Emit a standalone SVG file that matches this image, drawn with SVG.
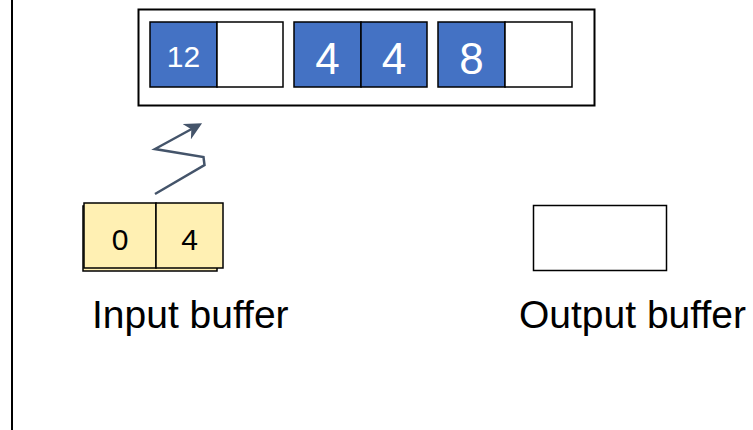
<svg xmlns="http://www.w3.org/2000/svg" width="753" height="430" viewBox="0 0 753 430">
  <defs>
    <style>
      .frame { fill: #ffffff; stroke: #000000; stroke-width: 2; }
      .blue { fill: #4472C4; stroke: #000000; stroke-width: 1.5; }
      .empty { fill: #ffffff; stroke: #000000; stroke-width: 1.5; }
      .yellow { fill: #FFF0B3; stroke: #000000; stroke-width: 1.5; }
      .wt { font-family: "Liberation Sans", Arial, sans-serif; fill: #ffffff; text-anchor: middle; }
      .bt { font-family: "Liberation Sans", Arial, sans-serif; fill: #000000; text-anchor: middle; }
      .lbl { font-family: "Liberation Sans", Arial, sans-serif; fill: #000000; font-size: 39px; }
      .conn { fill: none; stroke: #44546A; stroke-width: 2.5; stroke-linejoin: miter; }
    </style>
    <marker id="arrow" viewBox="0 0 10 10" refX="8" refY="5" markerWidth="7" markerHeight="7" orient="auto" markerUnits="strokeWidth">
      <path d="M0,0 L10,5 L0,10 L3,5 Z" fill="#44546A"/>
    </marker>
  </defs>

  <rect x="0" y="0" width="753" height="430" fill="#ffffff"/>
  <line x1="12" y1="0" x2="12" y2="430" stroke="#000000" stroke-width="2"/>

  <g id="memory">
    <rect class="frame" x="138.5" y="9.5" width="456" height="96"/>
    <g id="group-12">
      <rect class="blue" x="150" y="22" width="67" height="65"/>
      <rect class="empty" x="217" y="22" width="66" height="65"/>
      <text class="wt" x="183.5" y="67" font-size="30">12</text>
    </g>
    <g id="group-4-4">
      <rect class="blue" x="294" y="22" width="67" height="65"/>
      <rect class="blue" x="361" y="22" width="66" height="65"/>
      <text class="wt" x="327.5" y="73.5" font-size="44">4</text>
      <text class="wt" x="394" y="73.5" font-size="44">4</text>
    </g>
    <g id="group-8">
      <rect class="blue" x="438" y="22" width="67" height="65"/>
      <rect class="empty" x="505" y="22" width="67" height="65"/>
      <text class="wt" x="471.5" y="73.5" font-size="44">8</text>
    </g>
  </g>

  <g id="input-buffer">
    <rect class="yellow" x="83" y="206" width="134" height="65"/>
    <rect class="yellow" x="84" y="203" width="72" height="65"/>
    <rect class="yellow" x="156" y="203" width="67" height="65"/>
    <text class="bt" x="120" y="249.5" font-size="30">0</text>
    <text class="bt" x="189.5" y="249.5" font-size="30">4</text>
    <text class="lbl" x="92" y="328">Input buffer</text>
  </g>

  <g id="output-buffer">
    <rect class="empty" x="533.5" y="205.5" width="133" height="65" stroke-width="2"/>
    <text class="lbl" x="519" y="328">Output buffer</text>
  </g>

  <g id="connectors">
    <path class="conn" d="M155,194 L204.5,165 L203.5,157 L155,149 L199,125" marker-end="url(#arrow)"/>
  </g>
</svg>
